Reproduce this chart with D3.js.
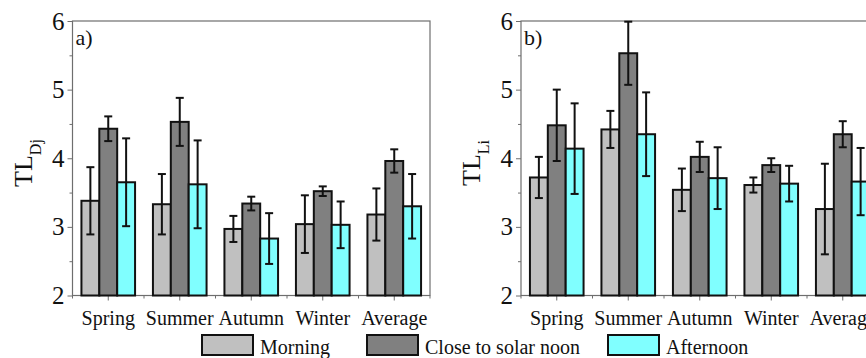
<!DOCTYPE html>
<html>
<head>
<meta charset="utf-8">
<script src="https://cdn.jsdelivr.net/npm/d3@7/dist/d3.min.js"></script>
<style>
  body { margin: 0; background: #fff; }
  svg { display: block; font-family: "Liberation Serif", "Times New Roman", serif; }
</style>
</head>
<body>
<svg width="866" height="358"></svg>
<script>
var seasons = ['Spring', 'Summer', 'Autumn', 'Winter', 'Average'];
var seriesNames = ['Morning', 'Close to solar noon', 'Afternoon'];
var seriesColors = ['#c0c0c0', '#808080', '#80ffff'];
var yTicks = [2, 3, 4, 5, 6];
var yMinorTicks = [2.5, 3.5, 4.5, 5.5];

// a) TL_Dj
var morningDj = [3.38, 3.33, 2.97, 3.04, 3.18];
var morningDjErr = [0.49, 0.44, 0.19, 0.42, 0.38];
var noonDj = [4.43, 4.53, 3.34, 3.52, 3.96];
var noonDjErr = [0.18, 0.35, 0.10, 0.07, 0.17];
var afternoonDj = [3.65, 3.62, 2.83, 3.03, 3.30];
var afternoonDjErr = [0.64, 0.64, 0.37, 0.34, 0.47];

// b) TL_Li
var morningLi = [3.72, 4.42, 3.54, 3.61, 3.26];
var morningLiErr = [0.30, 0.27, 0.31, 0.11, 0.66];
var noonLi = [4.48, 5.53, 4.02, 3.90, 4.35];
var noonLiErr = [0.52, 0.46, 0.22, 0.10, 0.19];
var afternoonLi = [4.14, 4.35, 3.71, 3.63, 3.66];
var afternoonLiErr = [0.66, 0.61, 0.45, 0.26, 0.49];

var panels = [
  { label: 'a)', sub: 'Dj', left: 72.5,
    values: [morningDj, noonDj, afternoonDj],
    errors: [morningDjErr, noonDjErr, afternoonDjErr] },
  { label: 'b)', sub: 'Li', left: 521,
    values: [morningLi, noonLi, afternoonLi],
    errors: [morningLiErr, noonLiErr, afternoonLiErr] }
];

var svg = d3.select('svg');
var plotTop = 21, plotBottom = 295.5, plotW = 357.5;
var frameColor = '#6e6e6e';

var y = d3.scaleLinear().domain([2, 6]).range([plotBottom, plotTop]);

panels.forEach(function(p) {
  var g = svg.append('g');
  var x = d3.scaleBand().domain(seasons).range([p.left, p.left + plotW]).padding(0);
  var bw = x.bandwidth();
  var barW = bw * 0.25;

  // frame
  g.append('rect')
      .attr('x', p.left).attr('y', plotTop)
      .attr('width', plotW).attr('height', plotBottom - plotTop)
      .attr('fill', 'none').attr('stroke', frameColor).attr('stroke-width', 1.2);

  // y axis, major + minor ticks
  var yAxis = g.append('g')
      .attr('transform', 'translate(' + p.left + ',0)')
      .call(d3.axisLeft(y).tickValues(yTicks).tickSize(5).tickPadding(3).tickFormat(d3.format('d')));
  yAxis.select('.domain').remove();
  yAxis.selectAll('line').attr('stroke', frameColor);
  yAxis.selectAll('text').attr('font-size', 25).attr('fill', '#111')
      .attr('font-family', '"Liberation Serif", serif');

  var yMinor = g.append('g')
      .attr('transform', 'translate(' + p.left + ',0)')
      .call(d3.axisLeft(y).tickValues(yMinorTicks).tickSize(3).tickFormat(''));
  yMinor.select('.domain').remove();
  yMinor.selectAll('line').attr('stroke', frameColor);

  // x axis: ticks at centres and at band edges
  var xAxis = g.append('g')
      .attr('transform', 'translate(0,' + plotBottom + ')')
      .call(d3.axisBottom(x).tickSize(5).tickPadding(10));
  xAxis.select('.domain').remove();
  xAxis.selectAll('line').attr('stroke', frameColor);
  xAxis.selectAll('text').attr('font-size', 20).attr('fill', '#111')
      .attr('font-family', '"Liberation Serif", serif');

  var edges = seasons.map(function(s) { return x(s); }).concat([p.left + plotW]);
  g.append('g').selectAll('line')
      .data(edges)
      .enter().append('line')
        .attr('x1', function(d) { return d; }).attr('x2', function(d) { return d; })
        .attr('y1', plotBottom).attr('y2', plotBottom + 3)
        .attr('stroke', frameColor);

  // bars
  p.values.forEach(function(vals, si) {
    var off = (bw - barW * 3) / 2 + si * barW;
    g.append('g').selectAll('rect')
        .data(vals)
        .enter().append('rect')
          .attr('x', function(d, i) { return x(seasons[i]) + off; })
          .attr('y', function(d) { return y(d); })
          .attr('width', barW)
          .attr('height', function(d) { return y(2) - y(d); })
          .attr('fill', seriesColors[si])
          .attr('stroke', '#111')
          .attr('stroke-width', 2);
  });

  // error bars
  p.values.forEach(function(vals, si) {
    var off = (bw - barW * 3) / 2 + si * barW + barW / 2;
    var eg = g.append('g').selectAll('g')
        .data(vals)
        .enter().append('g')
          .attr('stroke', '#111').attr('stroke-width', 2);
    eg.append('line')
        .attr('x1', function(d, i) { return x(seasons[i]) + off; })
        .attr('x2', function(d, i) { return x(seasons[i]) + off; })
        .attr('y1', function(d, i) { return y(d + p.errors[si][i]); })
        .attr('y2', function(d, i) { return y(d - p.errors[si][i]); });
    [1, -1].forEach(function(sign) {
      eg.append('line')
          .attr('x1', function(d, i) { return x(seasons[i]) + off - 4; })
          .attr('x2', function(d, i) { return x(seasons[i]) + off + 4; })
          .attr('y1', function(d, i) { return y(d + sign * p.errors[si][i]); })
          .attr('y2', function(d, i) { return y(d + sign * p.errors[si][i]); });
    });
  });

  // panel label
  g.append('text')
      .attr('x', p.left + 3).attr('y', 45)
      .attr('font-size', 22).attr('fill', '#111')
      .text(p.label);

  // y title TL with subscript
  var t = g.append('text')
      .attr('transform', 'translate(' + (p.left - 41) + ',163) rotate(-90)')
      .attr('text-anchor', 'middle')
      .attr('fill', '#111');
  t.append('tspan').attr('font-size', 26).text('TL');
  t.append('tspan').attr('font-size', 16).attr('dy', 9).text(p.sub);
});

// legend
var legendX = [202, 367, 608];
var legend = svg.append('g').selectAll('g')
    .data(seriesNames)
    .enter().append('g')
      .attr('transform', function(d, i) { return 'translate(' + legendX[i] + ',335)'; });
legend.append('rect')
    .attr('width', 51).attr('height', 20)
    .attr('fill', function(d, i) { return seriesColors[i]; })
    .attr('stroke', '#111').attr('stroke-width', 2);
legend.append('text')
    .attr('x', 58).attr('y', 19)
    .attr('font-size', 20).attr('fill', '#111')
    .text(function(d) { return d; });
</script>
</body>
</html>
